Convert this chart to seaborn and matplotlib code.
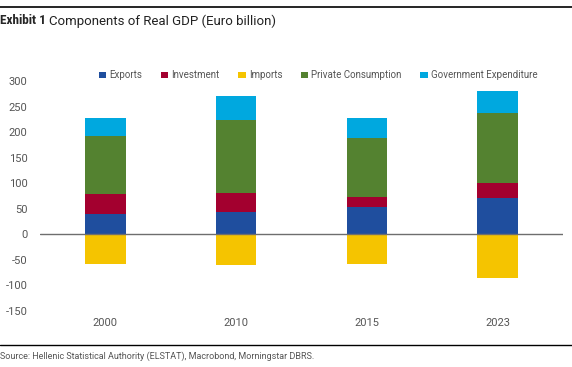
import matplotlib
matplotlib.use("Agg")
import matplotlib.pyplot as plt
import seaborn as sns
import pandas as pd
import numpy as np

years = ["2000", "2010", "2015", "2023"]
exports = [39, 44, 53, 71]
investment = [40, 37, 20, 30]
imports = [-58, -60, -58, -86]
private_consumption = [114, 143, 116, 137]
government = [35, 46, 38, 42]

components = ["Exports", "Investment", "Imports", "Private Consumption", "Government Expenditure"]
colors = {
    "Exports": "#1F4E9E",
    "Investment": "#A3002F",
    "Imports": "#F5C400",
    "Private Consumption": "#548230",
    "Government Expenditure": "#00A8DF",
}

df = pd.DataFrame({
    "Year": years,
    "Exports": exports,
    "Investment": investment,
    "Imports": imports,
    "Private Consumption": private_consumption,
    "Government Expenditure": government,
})

sns.set_style("white")
plt.rcParams["font.family"] = ["Roboto", "DejaVu Sans"]
plt.rcParams["axes.unicode_minus"] = False

fig = plt.figure(figsize=(5.72, 3.67), dpi=100)
ax = fig.add_axes([0.070, 0.140, 0.914, 0.667])

# positive parts stacked upward, imports downward from zero
bottoms = {
    "Exports": np.zeros(len(years)),
    "Investment": df["Exports"].values,
    "Imports": np.zeros(len(years)),
    "Private Consumption": df["Exports"].values + df["Investment"].values,
    "Government Expenditure": df["Exports"].values + df["Investment"].values
    + df["Private Consumption"].values,
}

for comp in components:
    sns.barplot(data=df, x="Year", y=comp, bottom=bottoms[comp], color=colors[comp],
                width=0.31, label=comp, ax=ax, saturation=1, linewidth=0)

ax.axhline(0, color="#6E6E6E", lw=1)
ax.set_xlim(-0.5, 3.5)
ax.set_ylim(-160, 320)
ax.set_yticks(range(-150, 301, 50))
ax.set_xlabel("")
ax.set_ylabel("")
for s in ax.spines.values():
    s.set_visible(False)
ax.tick_params(axis="both", length=0, labelsize=8, colors="#555555")
ax.tick_params(axis="y", pad=9)
ax.tick_params(axis="x", pad=2)

leg = ax.legend(loc="upper center", bbox_to_anchor=(0.556, 0.832), bbox_transform=fig.transFigure,
                ncol=5, frameon=False, fontsize=7, handlelength=0.8, handleheight=0.6,
                handletextpad=0.3, columnspacing=1.9, labelcolor="#555555")

# header and footer rules
fig.add_artist(plt.Line2D([0, 1], [1 - 7 / 367, 1 - 7 / 367], color="black", lw=1.2,
                          transform=fig.transFigure))
fig.add_artist(plt.Line2D([0, 1], [1 - 345 / 367, 1 - 345 / 367], color="black", lw=1,
                          transform=fig.transFigure))

t1 = fig.text(0.0, 1 - 21 / 367, "Exhibit 1", fontsize=9.5, fontweight="bold", va="center",
              ha="left", family=["Roboto Condensed", "Roboto", "DejaVu Sans"])
fig.canvas.draw()
bb = t1.get_window_extent()
x_next = (bb.x1 + 3) / fig.bbox.width
fig.text(x_next, 1 - 21 / 367, "Components of Real GDP (Euro billion)", fontsize=9.5,
         va="center", ha="left", color="#222222")
fig.text(0.0, 1 - 356 / 367, "Source: Hellenic Statistical Authority (ELSTAT), Macrobond, Morningstar DBRS.",
         fontsize=6.5, color="#555555", va="center", ha="left")

fig.savefig("out.png", dpi=100)
